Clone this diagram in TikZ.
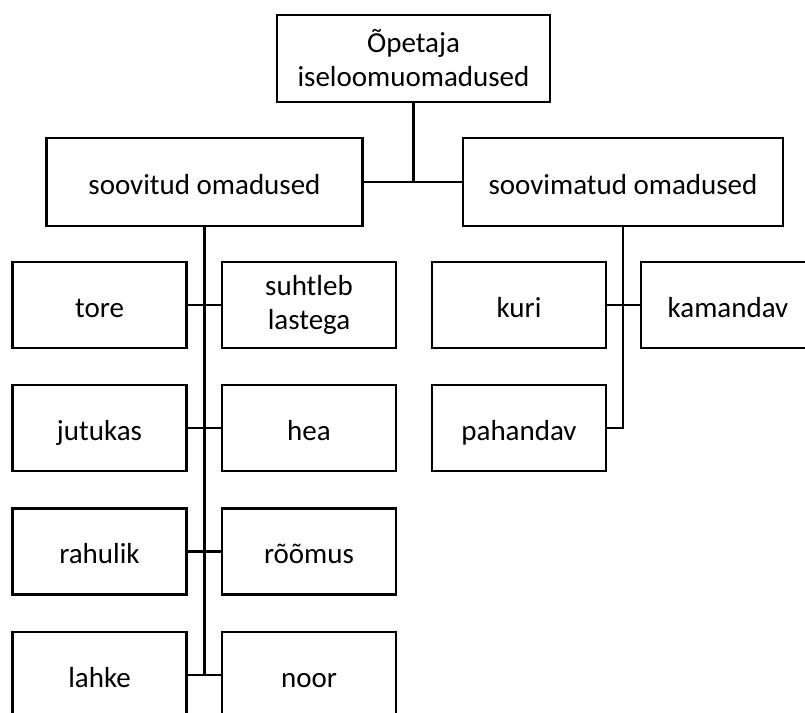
\documentclass[tikz,border=0pt]{standalone}
\usepackage{fontspec}
\setmainfont{Carlito}
\usetikzlibrary{positioning}

\begin{document}
\begin{tikzpicture}[x=1pt,y=-1pt,
	box/.style={draw,line width=2.3pt,inner sep=0pt,
		font=\fontsize{29}{34}\selectfont},
	oneline/.style={text height=24pt,text depth=0pt},
	small/.style={box,minimum width=174pt,minimum height=86pt},
	wide/.style={box,oneline,minimum width=316pt,minimum height=88pt},
	link/.style={line width=2.6pt}]
	\clip (0,0) rectangle (805,712);
	\node[box,align=center,minimum width=273pt,minimum height=87pt] (top) at (413.5,58.5) {Õpetaja\\iseloomuomadused};
	\node[wide] (soov) at (204.5,182) {soovitud omadused};
	\node[wide,minimum width=320pt] (mitte) at (623,182) {soovimatud omadused};
	\foreach \n/\t/\y in {tore/tore/305,jutukas/jutukas/428,rahulik/rahulik/551.5,lahke/lahke/675}
		\node[small,oneline] (\n) at (99.5,\y) {\t};
	\node[small,align=center] (suhtleb) at (309,305) {suhtleb\\lastega};
	\foreach \n/\t/\y in {hea/hea/428,room/rõõmus/551.5,noor/noor/675}
		\node[small,oneline] (\n) at (309,\y) {\t};
	\node[small,oneline] (kuri) at (519,305) {kuri};
	\node[small,oneline] (kaman) at (728,305) {kamandav};
	\node[small,oneline] (pahan) at (519,428) {pahandav};
	% connectors
	\draw[link] (soov.east) -- (mitte.west);
	\draw[link] (top.south) -- (top.south |- soov.east);
	\draw[link] (soov.south) -- (soov.south |- lahke.east);
	\foreach \a/\b in {tore/suhtleb,jutukas/hea,rahulik/room,lahke/noor}
		\draw[link] (\a.east) -- (\b.west);
	\draw[link] (mitte.south) -- (mitte.south |- pahan.east) -- (pahan.east);
	\draw[link] (kuri.east) -- (kaman.west);
\end{tikzpicture}
\end{document}
